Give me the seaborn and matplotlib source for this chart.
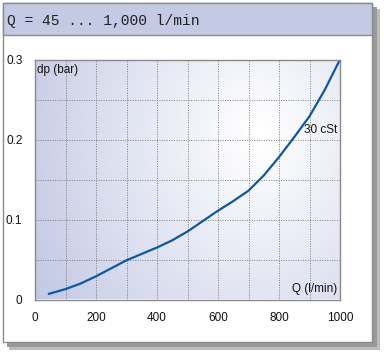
import numpy as np
import pandas as pd
import matplotlib
matplotlib.use("Agg")
import matplotlib.pyplot as plt
from matplotlib.patches import Rectangle
import seaborn as sns

# ---- data ----
flow_lpm = [45, 100, 150, 200, 250, 300, 350, 400, 450, 500, 550, 600,
            650, 700, 750, 800, 850, 900, 950, 1000]
dp_bar = [0.007, 0.013, 0.020, 0.029, 0.039, 0.049, 0.057, 0.065, 0.074,
          0.085, 0.098, 0.111, 0.123, 0.136, 0.155, 0.178, 0.203, 0.229,
          0.262, 0.300]
x_ticks = [0, 200, 400, 600, 800, 1000]
y_ticks = [0, 0.1, 0.2, 0.3]
y_tick_labels = ["0", "0.1", "0.2", "0.3"]
title = "Q = 45 ... 1,000 l/min"
x_label = "Q (l/min)"
y_label = "dp (bar)"
series_label = "30 cSt"

df = pd.DataFrame({"Q": flow_lpm, "dp": dp_bar})

sns.set_style("white")
plt.rcParams["font.family"] = ["Liberation Sans Narrow", "Liberation Sans", "DejaVu Sans"]

W, H = 385, 358
dpi = 100
fig = plt.figure(figsize=(W / dpi, H / dpi), dpi=dpi)
fig.patch.set_facecolor("white")

def px_rect(x0, y0, x1, y1, **kw):
    # pixel coords from top-left
    return Rectangle((x0 / W, 1 - y1 / H), (x1 - x0) / W, (y1 - y0) / H,
                     transform=fig.transFigure, **kw)

# shadow
fig.patches.append(px_rect(9, 9, 380, 350, facecolor="#bdbdbd", edgecolor="none", zorder=0))
fig.patches.append(px_rect(7, 7, 377, 347, facecolor="#9a9a9a", edgecolor="none", zorder=0))
# card
fig.patches.append(px_rect(3, 3, 372, 342, facecolor="white", edgecolor="#8c8c8c", linewidth=1.0, zorder=1))
# title bar
fig.patches.append(px_rect(3, 3, 372, 35, facecolor="#c4cae3", edgecolor="#8c8c8c", linewidth=1.0, zorder=2))
fig.text(7 / W, 1 - 21.5 / H, title, fontsize=10.5, family=["Liberation Mono", "DejaVu Sans Mono"],
         ha="left", va="center", color="#222222", zorder=3)

# axes
ax_l, ax_r, ax_t, ax_b = 35, 340, 59.5, 299.5
ax = fig.add_axes([ax_l / W, 1 - ax_b / H, (ax_r - ax_l) / W, (ax_b - ax_t) / H])
ax.set_zorder(5)

# radial background gradient (styling only)
nx, ny = 300, 240
gx = np.linspace(ax_l, ax_r, nx)
gy = np.linspace(ax_t, ax_b, ny)
GX, GY = np.meshgrid(gx, gy)
cx, cy = 258, 135
r = np.sqrt((GX - cx) ** 2 + ((GY - cy) * 0.8) ** 2)
t = np.clip((r - 8) / 252.0, 0, 1)
c_in = np.array([1.0, 1.0, 1.0])
c_out = np.array([0xc2, 0xc8, 0xe4]) / 255.0
img = c_in[None, None, :] * (1 - t[..., None]) + c_out[None, None, :] * t[..., None]
ax.imshow(img, extent=[0, 1000, 0, 0.3], aspect="auto", origin="upper", zorder=0,
          interpolation="bilinear")

sns.lineplot(data=df, x="Q", y="dp", ax=ax, color="#0d58a6", linewidth=1.6, zorder=4)

ax.set_xlim(0, 1000)
ax.set_ylim(0, 0.3)
ax.set_xticks(x_ticks)
ax.set_xticks(np.arange(100, 1000, 200), minor=True)
ax.set_yticks(y_ticks)
ax.set_yticklabels(y_tick_labels)
ax.set_yticks([0.05, 0.15, 0.25], minor=True)
ax.grid(True, which="both", color="#7a7a7a", linestyle=(0, (1, 1.5)), linewidth=0.7, zorder=1)
ax.set_axisbelow(False)
for line in ax.get_xgridlines() + ax.get_ygridlines():
    line.set_zorder(1)
ax.tick_params(which="both", direction="out", length=4, width=0.8, color="#7a7a7a",
               labelsize=8.5, labelcolor="#111111", pad=5)
ax.set_xlabel("")
ax.set_ylabel("")
for s in ax.spines.values():
    s.set_color("#8a8a8a")
    s.set_linewidth(1.0)
    s.set_zorder(6)

ax.text(8, 0.294, y_label, fontsize=8.5, ha="left", va="top", color="#111111", zorder=6)
ax.text(990, 0.006, x_label, fontsize=8.5, ha="right", va="bottom", color="#111111", zorder=6)
ax.text(990, 0.212, series_label, fontsize=8.5, ha="right", va="center", color="#111111", zorder=6)

fig.savefig("out.png", dpi=dpi)
